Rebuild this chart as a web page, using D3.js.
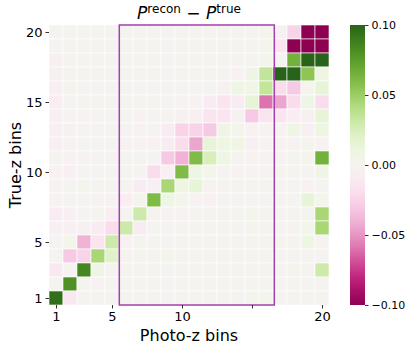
<!DOCTYPE html>
<meta charset="utf-8">
<style>
body { margin: 0; background: #fff; }
text { font-family: "DejaVu Sans", sans-serif; fill: #000; }
.tick line { stroke: #333; }
.domain { display: none; }
</style>
<svg width="409" height="351"></svg>
<script src="https://cdn.jsdelivr.net/npm/d3@7"></script>
<script>

// photo-z bins along x, true-z bins along y
var photoBins = d3.range(1, 21),
    trueBins = d3.range(1, 21);

var xTicks = [1, 5, 10, 15, 20],
    xTickLabels = ["1", "5", "10", "", "20"],
    yTicks = [1, 5, 10, 15, 20],
    cbarTicks = [0.10, 0.05, 0.00, -0.05, -0.10];

// selected photo-z range (bin edges)
var boxRange = [5.5, 16.5];

// P_recon - P_true, one row per true-z bin, listed from bin 20 down to bin 1
var diffRows = [
  [0,0,0,0,0, 0,0,0,0,0, 0,0,0,0,0, 0.002,-0.005,-0.025,-0.1,-0.1],
  [0,0,0,0,0, 0,0,0,0,0, 0,0,0,0,0, 0.002,-0.015,-0.1,-0.1,-0.1],
  [-0.004,0,0,0,0, 0,0,0,0,0, 0,0,0,0,-0.002, 0.003,0,0.065,0.1,0.1],
  [-0.004,0,0,0,0, 0,0,0,0,-0.002, 0,0,0,-0.003,0.008, 0.035,0.1,0.1,0.055,0.01],
  [-0.005,0.002,0,0,0, 0,0,0,0,0, 0,0,-0.004,0.01,0.006, 0.035,-0.02,-0.03,0.004,0.015],
  [-0.008,0,0,0,0, 0,0,0,0,-0.002, -0.003,-0.01,-0.015,-0.01,0.015, -0.06,-0.045,-0.02,0.008,-0.02],
  [-0.006,-0.003,-0.003,0,0, 0,-0.003,0,0,-0.004, -0.005,-0.015,-0.015,-0.004,-0.03, -0.015,-0.015,-0.008,-0.004,0.015],
  [-0.005,-0.004,0,-0.003,0, 0,-0.003,0,-0.01,-0.025, -0.025,-0.03,0.008,0.003,-0.003, -0.003,0,0.008,-0.005,0.01],
  [-0.005,-0.003,0,0,0, -0.003,-0.003,-0.003,-0.01,-0.02, -0.045,0.015,0.01,0.01,-0.005, -0.003,-0.003,-0.003,0.002,-0.003],
  [0,-0.003,-0.003,0,-0.003, 0,0,0,-0.03,-0.04, 0.06,0.025,0.008,0,-0.003, -0.003,0,0,0.002,0.065],
  [-0.003,-0.005,0,0,0, 0,0,-0.02,-0.005,0.06, 0.008,0.005,0,-0.002,-0.002, -0.002,0.003,0,0,0.008],
  [-0.003,0,0.003,0,0, 0,-0.01,-0.005,0.045,0.01, 0.015,-0.003,0,0,-0.002, 0,0,0,-0.003,0],
  [-0.003,0,0,-0.003,-0.003, -0.008,0.004,0.06,0.008,0.003, -0.003,-0.003,0,0,0, 0,0,0,0.015,0.005],
  [-0.01,-0.005,0,0,-0.008, 0,0.03,0,-0.003,-0.003, 0,0,0,0,0.004, 0,0,0,0,0.045],
  [-0.005,-0.005,-0.005,-0.01,-0.02, 0.03,-0.01,0,0,0, 0,0,0,0,0.002, 0,0,-0.002,0.005,0.045],
  [0,0.005,-0.04,-0.015,0.03, -0.003,0.003,0,0,0, 0,0,0,0,0, 0,0.002,0,0.01,-0.003],
  [0,-0.03,-0.025,0.045,0.02, 0,0,0,0.003,0, 0,0,0,0,0, 0,0,0,0,0],
  [-0.012,0,0.085,0.008,0, 0,0,0,0,0, 0,0,0,0,0, 0,0,0.002,0,0.03],
  [0,0.08,0,-0.003,0, 0,0,0,0,0, 0,0,0,0,0, 0,0,0,0,0],
  [0.095,-0.012,0,0,0, 0,0,0,0,0, 0,0,0,0,0.003, 0.004,0,0,0,0]
];

var svg = d3.select("svg"),
    plotLeft = 49, plotTop = 25, plotSize = 280;

var x = d3.scaleLinear().domain([0.5, 20.5]).range([plotLeft, plotLeft + plotSize]),
    y = d3.scaleLinear().domain([0.5, 20.5]).range([plotTop + plotSize, plotTop]);

var color = d3.scaleSequential(d3.interpolatePiYG).domain([-0.1, 0.1]);

var cells = [];
diffRows.forEach(function(row, k) {
  var t = trueBins[trueBins.length - 1 - k];
  row.forEach(function(v, j) {
    cells.push({ p: photoBins[j], t: t, v: v });
  });
});

svg.append("g").selectAll("rect")
  .data(cells)
  .enter().append("rect")
    .attr("x", function(d) { return x(d.p - 0.5); })
    .attr("y", function(d) { return y(d.t + 0.5); })
    .attr("width", x(1.5) - x(0.5))
    .attr("height", y(0.5) - y(1.5))
    .attr("fill", function(d) { return color(d.v); })
    .attr("stroke", "#fff")
    .attr("stroke-width", 0.6);

svg.append("rect")
    .attr("x", x(boxRange[0]) + 0.3)
    .attr("y", y(20.5))
    .attr("width", x(boxRange[1]) - x(boxRange[0]) + 1)
    .attr("height", y(0.5) - y(20.5))
    .attr("fill", "none")
    .attr("stroke", "#a43fae")
    .attr("stroke-width", 1.5);

var xAxis = svg.append("g")
    .attr("transform", "translate(0," + (plotTop + plotSize) + ")")
    .call(d3.axisBottom(x).tickValues(xTicks)
      .tickFormat(function(d, i) { return xTickLabels[i]; })
      .tickSize(3.5).tickPadding(3));
xAxis.selectAll("text").style("font-size", "13px").style("fill", "#000");

var yAxis = svg.append("g")
    .attr("transform", "translate(" + plotLeft + ",0)")
    .call(d3.axisLeft(y).tickValues(yTicks).tickSize(3.5).tickPadding(3));
yAxis.selectAll("text").style("font-size", "13px").style("fill", "#000");

svg.append("text")
    .attr("x", x(10.5))
    .attr("y", 341)
    .attr("text-anchor", "middle")
    .style("font-size", "16px")
    .text("Photo-z bins");

svg.append("text")
    .attr("transform", "translate(21," + y(10.5) + ") rotate(-90)")
    .attr("text-anchor", "middle")
    .style("font-size", "16px")
    .text("True-z bins");

var title = svg.append("text")
    .attr("x", x(10.5))
    .attr("y", 19)
    .attr("text-anchor", "middle")
    .style("font-size", "17px");
title.append("tspan").style("font-style", "italic").text("P");
title.append("tspan").attr("dy", -6).style("font-size", "12px").text("recon");
title.append("tspan").attr("dy", 6).text(" \u2212 ");
title.append("tspan").style("font-style", "italic").text("P");
title.append("tspan").attr("dy", -6).style("font-size", "12px").text("true");

// colorbar
var cb = { x: 350, w: 15 };
var cbScale = d3.scaleLinear().domain([-0.1, 0.1]).range([plotTop + plotSize, plotTop]);

var grad = svg.append("defs").append("linearGradient")
    .attr("id", "cbar")
    .attr("x1", 0).attr("y1", 1).attr("x2", 0).attr("y2", 0);
grad.selectAll("stop")
  .data(d3.range(0, 1.001, 0.05))
  .enter().append("stop")
    .attr("offset", function(d) { return d; })
    .attr("stop-color", function(d) { return d3.interpolatePiYG(d); });

svg.append("rect")
    .attr("x", cb.x)
    .attr("y", plotTop)
    .attr("width", cb.w)
    .attr("height", plotSize)
    .attr("fill", "url(#cbar)");

var cbAxis = svg.append("g")
    .attr("transform", "translate(" + (cb.x + cb.w) + ",0)")
    .call(d3.axisRight(cbScale).tickValues(cbarTicks)
      .tickFormat(function(d) { return d3.format(".2f")(d).replace("-", "\u2212"); })
      .tickSize(3.5).tickPadding(3));
cbAxis.selectAll("text").style("font-size", "11px").style("fill", "#000");

</script>
